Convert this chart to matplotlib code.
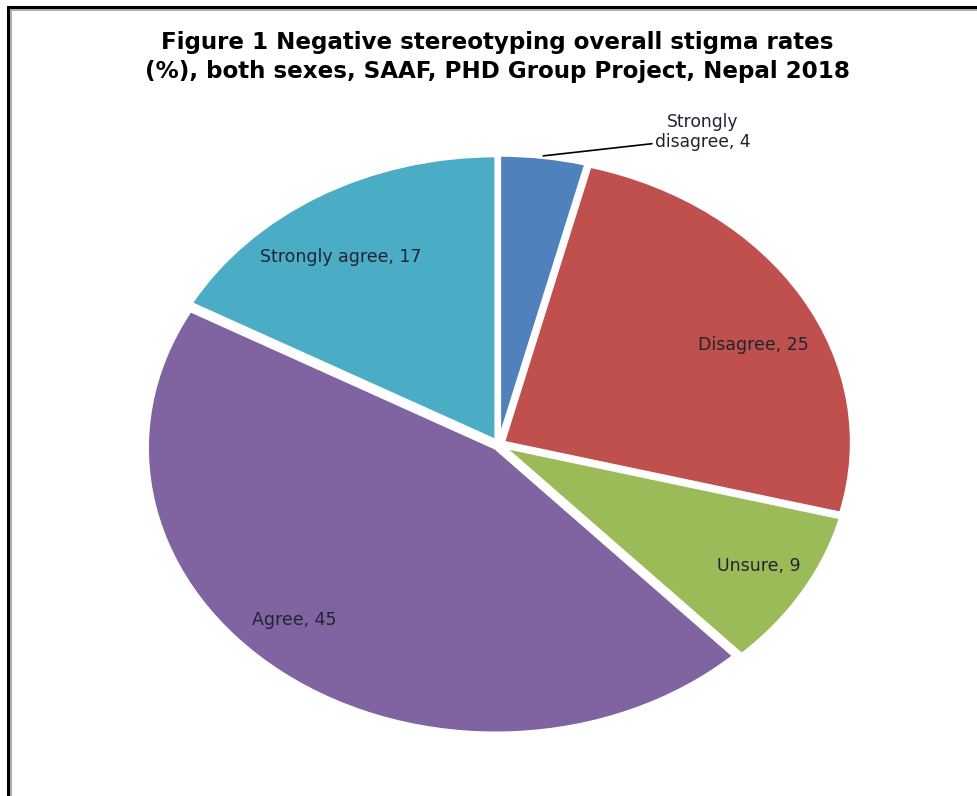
import numpy as np
import matplotlib.pyplot as plt
from matplotlib.patches import Rectangle

# DATA
categories = ["Strongly disagree", "Disagree", "Unsure", "Agree", "Strongly agree"]
values = [4, 25, 9, 45, 17]
colors = ["#4F81BD", "#C0504D", "#9BBB59", "#8064A2", "#4BACC6"]

# label placement: radius and angle shift (deg) from each wedge's mid angle
# (None = outside label with leader line)
label_radius = [None, 0.81, 0.86, 0.85, 0.80]
label_shift = [0, -5, 1, -6, 4]

plt.rcParams["font.family"] = ["DejaVu Sans"]

fig = plt.figure(figsize=(9.77, 7.96), dpi=100)
ax = fig.add_axes([0.088, 0.015, 0.845, 0.853])

explode = [0.015] * len(values)
wedges, _ = ax.pie(
    values,
    colors=colors,
    startangle=90,
    counterclock=False,
    explode=explode,
    wedgeprops=dict(edgecolor="white", linewidth=2.5),
)

# stretch the pie into an ellipse
ax.set_aspect("auto")
ax.set_xlim(-1.185, 1.185)
ax.set_ylim(-1.19, 1.19)
ax.axis("off")

# LABELS
txt_color = "#1e2530"
for w, cat, val, r, sh in zip(wedges, categories, values, label_radius, label_shift):
    mid = np.deg2rad((w.theta1 + w.theta2) / 2)
    if r is None:
        rim = (1.02 * np.cos(mid), 1.02 * np.sin(mid))
        ax.annotate(
            f"Strongly\ndisagree, {val}",
            xy=rim, xytext=(0.585, 1.095),
            ha="center", va="center", fontsize=12.3, color=txt_color,
            linespacing=1.1,
            arrowprops=dict(arrowstyle="-", color="black", lw=1.2,
                            shrinkA=0, shrinkB=0, relpos=(0, 0.2)),
        )
    else:
        a = mid + np.deg2rad(sh)
        ax.text(r * np.cos(a), r * np.sin(a), f"{cat}, {val}",
                ha="center", va="center", fontsize=12.5, color=txt_color)

# TITLE
fig.text(0.509, 0.928,
         "Figure 1 Negative stereotyping overall stigma rates\n"
         "(%), both sexes, SAAF, PHD Group Project, Nepal 2018",
         ha="center", va="center", fontsize=16.6, fontweight="bold",
         linespacing=1.35)

# FRAME (cut off at right and bottom)
W, H = 977, 796
fig.add_artist(Rectangle((8 / W, -1), 2, 2 - 7 / H, transform=fig.transFigure,
                         fill=False, edgecolor="black", linewidth=2.2))
fig.add_artist(Rectangle((10.5 / W, -1), 2, 2 - 9.5 / H, transform=fig.transFigure,
                         fill=False, edgecolor="#a0a0a0", linewidth=1.2))

fig.savefig("out.png", dpi=100)
